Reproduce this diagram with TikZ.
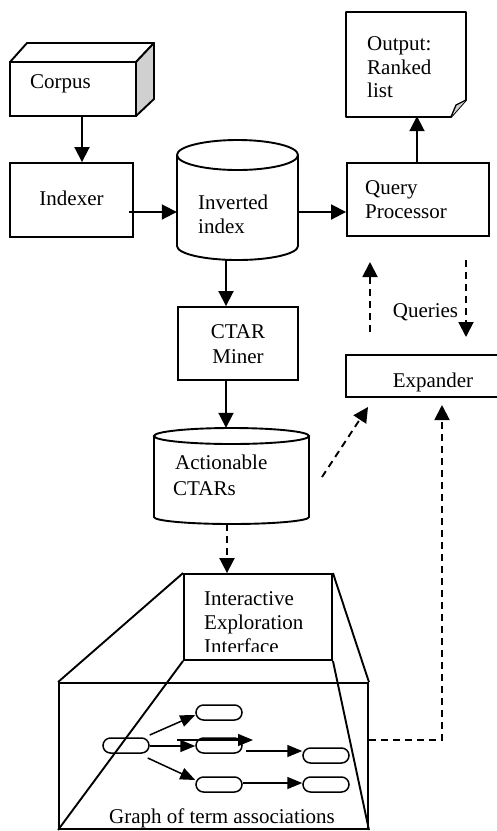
\documentclass[tikz,border=0pt]{standalone}
\usepackage{fontspec}
\setmainfont{Liberation Serif}
\usetikzlibrary{arrows.meta}
\definecolor{facegray}{HTML}{D0D0D0}
\begin{document}
\begin{tikzpicture}[x=1pt,y=-1pt,
  every node/.style={inner sep=0pt, font=\fontsize{21}{23.5}\selectfont},
  box/.style={draw, line width=1.9pt, minimum width=#1},
  hidden/.style={minimum width=#1},
  line/.style={line width=1.9pt},
  arr/.style={line width=1.9pt, -{Triangle[length=15pt,width=15pt]}},
  darr/.style={arr, dash pattern=on 7pt off 5pt},
  term/.style={draw, line width=1.5pt, rounded corners=7.5pt, minimum width=46pt, minimum height=15pt},
  garr/.style={line width=1.5pt, -{Triangle[length=15pt,width=12pt]}},
  lbl/.style={anchor=base west},
  clbl/.style={anchor=base}]
\useasboundingbox (0,0) rectangle (497,831);

% Corpus: a 3-D block
\node[box=126pt, minimum height=54pt] (corpus) at (73,89) {};
\draw[line, line join=round] (10,62) -- (27,43) -- (154,43) -- (136,62);
\draw[line, fill=facegray, line join=round] (136,62) -- (154,43) -- (154,99) -- (136,116) -- cycle;
\node[lbl] (corpustxt) at (30,88) {Corpus};

% Indexer
\node[box=123pt, minimum height=74pt] (indexer) at (71.5,200) {};
\node[clbl] (indexertxt) at (71.5,205) {Indexer};

% Inverted index cylinder
\node[hidden=121pt, minimum height=120pt] (inv) at (237.5,200) {};
\draw[line] (237.5,155) ellipse [x radius=60.5pt, y radius=15pt];
\draw[line] (177,155) -- (177,246) arc[start angle=180, end angle=360, x radius=60.5pt, y radius=14pt] -- (298,155);
\node[lbl] (invtxt1) at (198,209.5) {Inverted};
\node[lbl] (invtxt2) at (198,233) {index};

% Query processor
\node[box=142pt, minimum height=73pt] (qp) at (418,199.5) {};
\node[lbl] (qptxt1) at (365,194) {Query};
\node[lbl] (qptxt2) at (365,218) {Processor};

% Output document with folded corner
\node[hidden=120pt, minimum height=104pt] (out) at (406,64) {};
\draw[line, line join=round] (346,12) -- (466,12) -- (466,100) -- (451,117) -- (346,117) -- cycle;
\draw[line width=1.3pt, fill=facegray, line join=round] (451,117) -- (456,105) -- (466,100);
\node[lbl] (outtxt1) at (367,50) {Output:};
\node[lbl] (outtxt2) at (367,74) {Ranked};
\node[lbl] (outtxt3) at (367,97) {list};

% CTAR miner
\node[box=120pt, minimum height=73pt] (ctar) at (238,343.5) {};
\node[clbl] (ctartxt1) at (238,338) {CTAR};
\node[clbl] (ctartxt2) at (238,363) {Miner};

% Actionable CTARs cylinder
\node[hidden=155pt, minimum height=96pt] (act) at (231.5,476) {};
\draw[line] (231.5,436) ellipse [x radius=77.5pt, y radius=8pt];
\draw[line] (154,436) -- (154,517) arc[start angle=180, end angle=360, x radius=77.5pt, y radius=7pt] -- (309,436);
\node[lbl] (acttxt1) at (175,469) {Actionable};
\node[lbl] (acttxt2) at (173,495) {CTARs};

% Expander (runs off the right edge)
\node[hidden=151pt, minimum height=42pt] (exp) at (421.5,376) {};
\draw[line] (505,355) -- (346,355) -- (346,397) -- (505,397);
\node[clbl] (exptxt) at (433,387) {Expander};
\node[clbl] (queries) at (425.5,317) {Queries};

% Interactive exploration interface
\node[box=148pt, minimum height=86pt] (iee) at (258,617) {};
\begin{scope}
  \clip (184,574) rectangle (332,651);
  \node[lbl] (ieetxt1) at (204,605) {Interactive};
  \node[lbl] (ieetxt2) at (204,629) {Exploration};
  \node[lbl] (ieetxt3) at (204,653) {Interface};
\end{scope}

% Graph of term associations
\node[box=309pt, minimum height=146pt] (graph) at (213.5,756) {};
\node[clbl] (graphtxt) at (222,823) {Graph of term associations};
\draw[line] (iee.north west) -- (graph.north west);
\draw[line] (iee.north east) -- (graph.north east);
\draw[line] (iee.south west) -- (graph.south west);
\draw[line] (iee.south east) -- (graph.south east);

\node[term] (t0) at (126,745.5) {};
\node[term] (t1) at (219,712.5) {};
\node[term] (t2) at (219,745.5) {};
\node[term] (t3) at (326,755.5) {};
\node[term] (t4) at (219,784.5) {};
\node[term] (t5) at (326,784.5) {};
\coordinate (sa) at (177,740);
\coordinate (sb) at (253,740);
\draw[garr] (t0.east |- 0,735) -- (t1.west |- 0,715);
\draw[garr] (t0.east |- 0,746) -- (t2.west |- 0,746);
\draw[garr] (sa) -- (sb);
\draw[garr] ([xshift=3pt]t2.east |- 0,751) -- (t3.west |- 0,751);
\draw[garr] ([xshift=-2pt]t0.east |- 0,758) -- (t4.west |- 0,780);
\draw[garr] (t4.east |- 0,783) -- (t5.west |- 0,783);

% Solid flow
\draw[arr] (corpus.south -| 82,0) -- (indexer.north -| 82,0);
\draw[arr] ([xshift=-5pt]indexer.east |- 0,212) -- (inv.west |- 0,212);
\draw[arr] (inv.east |- 0,212) -- (qp.west |- 0,212);
\draw[arr] (qp.north -| 417,0) -- (out.south -| 417,0);
\draw[arr] (inv.south -| 226,0) -- (ctar.north -| 226,0);
\draw[arr] (ctar.south -| 226,0) -- (act.north -| 226,0);

% Dashed flow
\coordinate (up1) at (370,332);
\coordinate (up2) at (370,262);
\coordinate (dn1) at (466,260);
\coordinate (dn2) at (466,337);
\draw[darr] (up1) -- (up2);
\draw[darr] (dn1) -- (dn2);
\coordinate (ae1) at (322,477);
\coordinate (ae2) at (368,407);
\draw[darr] (ae1) -- (ae2);
\draw[darr] (act.south -| 227,0) -- (iee.north -| 227,0);
\coordinate (gbend) at (442,740);
\draw[darr] (graph.east |- 0,740) -- (gbend) -- (442,405);
\end{tikzpicture}
\end{document}
